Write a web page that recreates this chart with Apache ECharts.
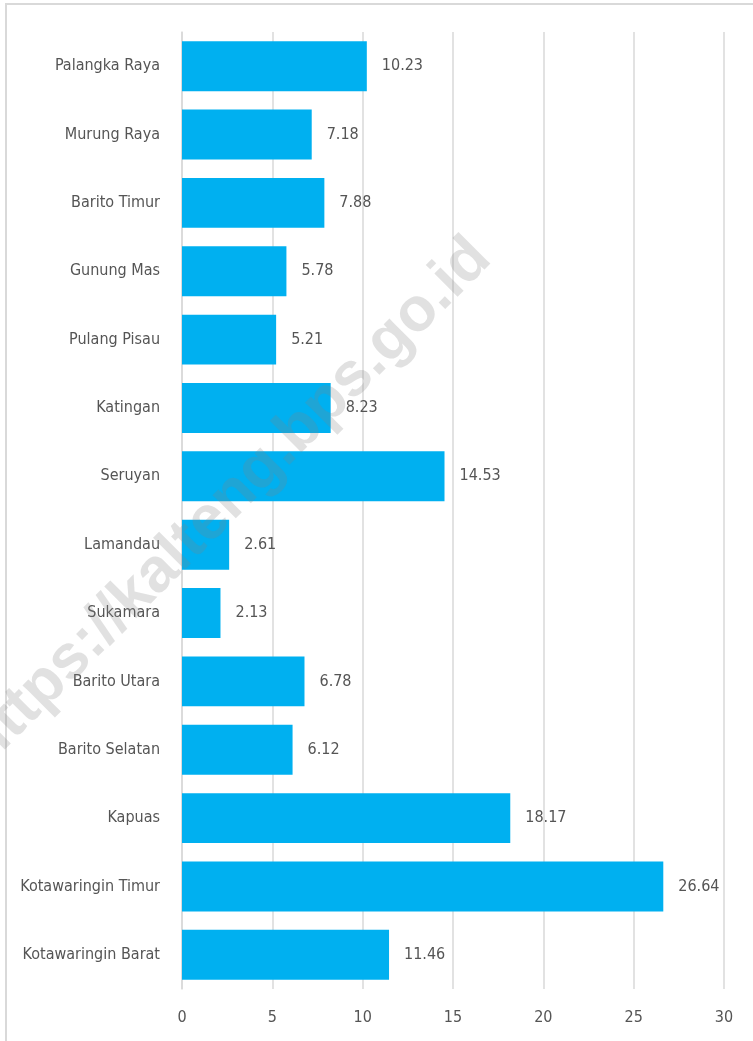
<!DOCTYPE html>
<html>
<head>
<meta charset="utf-8">
<script src="https://cdn.jsdelivr.net/npm/echarts@6/dist/echarts.min.js"></script>
<style>
  html, body { margin: 0; padding: 0; background: #fff; }
  #chart { width: 753px; height: 1041px; }
</style>
</head>
<body>
<div id="chart"></div>
<script>
// kabupaten / kota, top to bottom as in the picture
var regions = [
  "Palangka Raya", "Murung Raya", "Barito Timur", "Gunung Mas", "Pulang Pisau",
  "Katingan", "Seruyan", "Lamandau", "Sukamara", "Barito Utara",
  "Barito Selatan", "Kapuas", "Kotawaringin Timur", "Kotawaringin Barat"
];
var values = [10.23, 7.18, 7.88, 5.78, 5.21, 8.23, 14.53, 2.61, 2.13, 6.78, 6.12, 18.17, 26.64, 11.46];
var axisMin = 0;
var axisMax = 30;
var axisStep = 5;
var watermark = "https://kalteng.bps.go.id";

// "condensed" goes into the canvas font shorthand as font-stretch
var font = "'DejaVu Sans', sans-serif";
var stretch = "condensed";
var textColor = "#555555";
var gridColor = "#d9d9d9";

var chart = echarts.init(document.getElementById("chart"));
chart.setOption({
  animation: false,
  backgroundColor: "#fff",
  grid: {
    left: 182,
    right: 29,
    top: 32,
    bottom: 52
  },
  xAxis: {
    type: "value",
    min: axisMin,
    max: axisMax,
    interval: axisStep,
    axisLine: { show: false },
    axisTick: { show: false },
    splitLine: { lineStyle: { color: gridColor, width: 1.5 } },
    axisLabel: {
      margin: 21,
      color: textColor,
      fontFamily: font,
      fontWeight: stretch,
      fontSize: 16
    }
  },
  yAxis: {
    type: "category",
    inverse: true,
    data: regions,
    axisLine: { show: true, lineStyle: { color: gridColor, width: 1.5 } },
    axisTick: { show: false },
    axisLabel: {
      margin: 22,
      color: textColor,
      fontFamily: font,
      fontWeight: stretch,
      fontSize: 16
    }
  },
  series: [
    {
      type: "bar",
      data: values,
      barCategoryGap: "27%",
      itemStyle: { color: "#00b0f0" },
      label: {
        show: true,
        position: "right",
        distance: 15,
        color: textColor,
        fontFamily: font,
        fontWeight: stretch,
        fontSize: 16,
        formatter: function (p) { return p.value.toFixed(2); }
      }
    }
  ],
  graphic: [
    {
      type: "rect",
      silent: true,
      shape: { x: 6, y: 4, width: 800, height: 1100 },
      style: { fill: "none", stroke: gridColor, lineWidth: 2 },
      z: 1
    },
    {
      type: "text",
      silent: true,
      x: 228,
      y: 502,
      rotation: Math.PI / 4,
      z: 100,
      style: {
        text: watermark,
        font: "bold 62px 'Liberation Sans', Arial, sans-serif",
        fill: "rgba(128,128,128,0.24)",
        textAlign: "center",
        textVerticalAlign: "middle"
      }
    }
  ]
});
</script>
</body>
</html>
